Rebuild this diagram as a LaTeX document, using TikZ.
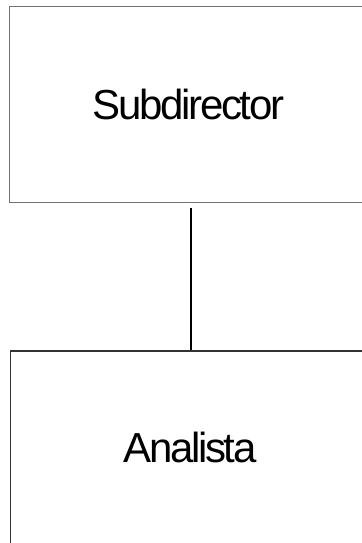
\documentclass[tikz,border=0pt]{standalone}
\usepackage{fontspec}
\setmainfont{Liberation Sans}[LetterSpace=-5.5]
\usepackage{tikz}
\usetikzlibrary{calc}

\begin{document}
\begin{tikzpicture}[x=0.75pt,y=-0.75pt,
    post/.style={draw,line width=1pt,font=\fontsize{31.5}{36}\selectfont,inner sep=0pt},
    link/.style={draw=black,line width=1.5pt,shorten <=3.4pt}]
  \useasboundingbox (0,0) rectangle (361,543);
  \node [post,draw=black!55,minimum width=268.5pt,minimum height=147pt] (sub) at (188.5,104.5) {Subdirector};
  \node [post,draw=black!80,minimum width=269.25pt,minimum height=145pt] (ana) at (190,447.5) {Analista};
  \draw [link] ($ (ana.north |- sub.south)+(0.5,0) $) -- ($ (ana.north)+(0.5,0) $);
\end{tikzpicture}
\end{document}
